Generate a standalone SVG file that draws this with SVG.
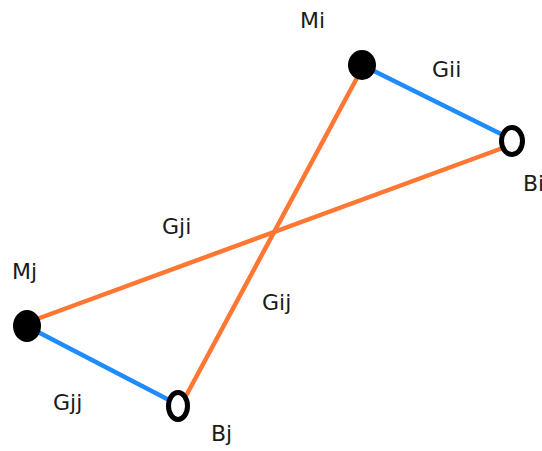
<svg xmlns="http://www.w3.org/2000/svg" width="542" height="451" viewBox="0 0 542 451">
<style>
.bg{fill:#ffffff}
.blue{stroke:#1e8cff;stroke-width:4.5;fill:none;stroke-linecap:round}
.orange{stroke:#ff7733;stroke-width:4.5;fill:none;stroke-linecap:round}
.m{fill:#000000}
.b{fill:none;stroke:#000000;stroke-width:5}
.lbl{font-family:"DejaVu Sans",Verdana,sans-serif;font-size:22px;fill:#1a1a1a}
</style>
<rect class="bg" x="0" y="0" width="542" height="451"/>
<g id="connectors">
<line class="blue" x1="372" y1="70" x2="501" y2="134"/>
<line class="blue" x1="38" y1="332" x2="169" y2="400"/>
<line class="orange" x1="358" y1="76" x2="187" y2="394"/>
<line class="orange" x1="500" y1="149" x2="37" y2="319"/>
<text class="lbl" x="432" y="77">Gii</text>
<text class="lbl" x="162" y="234">Gji</text>
<text class="lbl" x="262" y="310">Gij</text>
<text class="lbl" x="53" y="410">Gjj</text>
</g>
<g id="Mi">
<ellipse class="m" cx="362" cy="65" rx="14" ry="15"/>
<text class="lbl" x="300" y="28">Mi</text>
</g>
<g id="Bi">
<ellipse class="b" cx="512" cy="141" rx="10.5" ry="13.5"/>
<text class="lbl" x="523" y="191">Bi</text>
</g>
<g id="Mj">
<ellipse class="m" cx="27" cy="326" rx="14" ry="16"/>
<text class="lbl" x="12" y="279">Mj</text>
</g>
<g id="Bj">
<ellipse class="b" cx="178" cy="406" rx="9.5" ry="13.5"/>
<text class="lbl" x="211" y="441">Bj</text>
</g>
</svg>
